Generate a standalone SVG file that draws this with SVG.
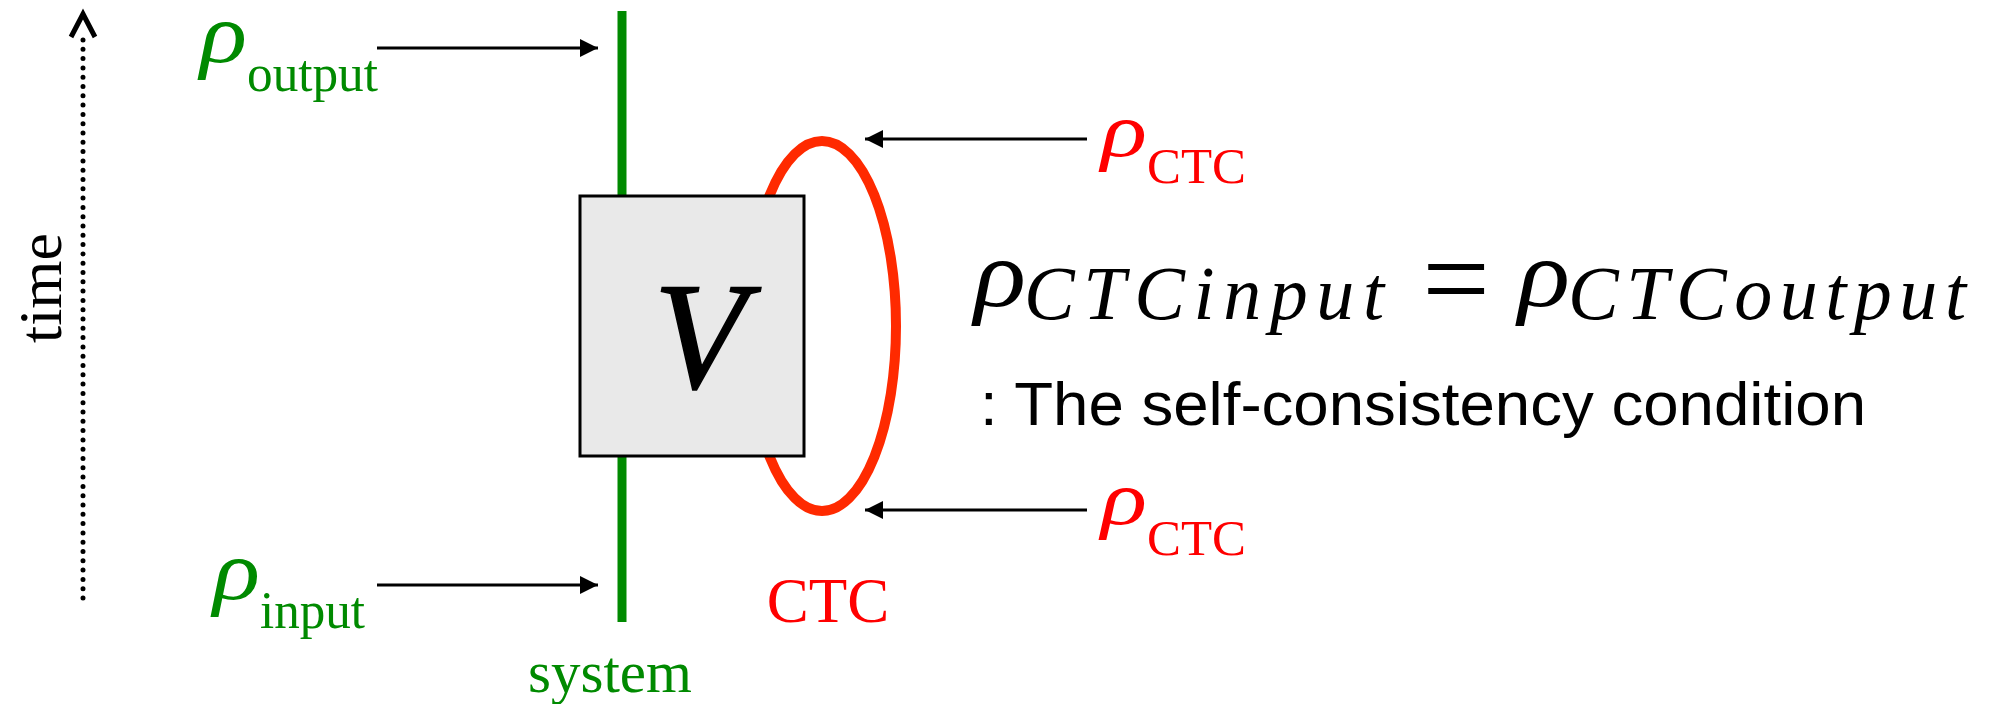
<svg xmlns="http://www.w3.org/2000/svg" width="2001" height="704" viewBox="0 0 2001 704">
<style>
.serif{font-family:"Liberation Serif","Times New Roman",serif}
.sans{font-family:"Liberation Sans",Arial,sans-serif}
.it{font-style:italic}
.green{fill:#008a00}
.red{fill:#ff0000}
.blk{fill:#000}
.conn{stroke:#000;stroke-width:3;fill:none}
</style>
<defs>
<marker id="ah" viewBox="0 0 18 18" refX="18" refY="9" markerWidth="18" markerHeight="18" markerUnits="userSpaceOnUse" orient="auto">
<path d="M0,0 L18,9 L0,18 Z" fill="#000"/>
</marker>
</defs>
<rect width="2001" height="704" fill="#fff"/>

<g id="time-axis">
<line x1="83" y1="40" x2="83" y2="604" stroke="#000" stroke-width="5" stroke-linecap="round" stroke-dasharray="0 9.3"/>
<path d="M71,37 L83,14 L95,37" fill="none" stroke="#000" stroke-width="5"/>
<text class="serif blk" font-size="62" text-anchor="middle" transform="translate(61,288) rotate(-90)">time</text>
</g>

<g id="system-line">
<line x1="622" y1="11" x2="622" y2="622" stroke="#008a00" stroke-width="9"/>
<text class="serif green" x="610" y="692" font-size="59" text-anchor="middle">system</text>
</g>

<g id="ctc-loop">
<ellipse cx="822" cy="326" rx="74" ry="185" fill="none" stroke="#ff2a00" stroke-width="10"/>
<text class="serif red" x="828" y="622" font-size="63" text-anchor="middle">CTC</text>
</g>

<g id="V-box">
<rect x="580" y="196" width="224" height="260" fill="#e9e9e9" stroke="#000" stroke-width="3"/>
<text class="serif it blk" x="700" y="388" font-size="152" text-anchor="middle" stroke="#000" stroke-width="1.5">V</text>
</g>

<g id="connectors">
<line class="conn" x1="377" y1="48" x2="598" y2="48" marker-end="url(#ah)"/>
<line class="conn" x1="377" y1="585" x2="598" y2="585" marker-end="url(#ah)"/>
<line class="conn" x1="1087" y1="139" x2="865" y2="139" marker-end="url(#ah)"/>
<line class="conn" x1="1087" y1="510" x2="865" y2="510" marker-end="url(#ah)"/>
</g>

<g id="rho-output">
<text class="serif it green" x="200" y="62" font-size="84" textLength="47" lengthAdjust="spacingAndGlyphs">ρ</text>
<text class="serif green" x="247" y="91" font-size="52" textLength="131" lengthAdjust="spacingAndGlyphs">output</text>
</g>

<g id="rho-input">
<text class="serif it green" x="213" y="599" font-size="84" textLength="47" lengthAdjust="spacingAndGlyphs">ρ</text>
<text class="serif green" x="260" y="628" font-size="52" textLength="105" lengthAdjust="spacingAndGlyphs">input</text>
</g>

<g id="rho-ctc-top">
<text class="serif it red" x="1101" y="156" font-size="76" textLength="46" lengthAdjust="spacingAndGlyphs">ρ</text>
<text class="serif red" x="1147" y="183" font-size="51" textLength="99" lengthAdjust="spacingAndGlyphs">CTC</text>
</g>

<g id="rho-ctc-bottom">
<text class="serif it red" x="1101" y="524" font-size="76" textLength="46" lengthAdjust="spacingAndGlyphs">ρ</text>
<text class="serif red" x="1147" y="555" font-size="51" textLength="99" lengthAdjust="spacingAndGlyphs">CTC</text>
</g>

<g id="equation">
<text class="serif it blk" x="974" y="306" font-size="95" textLength="52" lengthAdjust="spacingAndGlyphs">ρ</text>
<text class="serif it blk" x="1024" y="319" font-size="76" textLength="360" lengthAdjust="spacing">CTCinput</text>
<text class="serif blk" x="1456" y="319" font-size="120" text-anchor="middle">=</text>
<text class="serif it blk" x="1518" y="306" font-size="95" textLength="52" lengthAdjust="spacingAndGlyphs">ρ</text>
<text class="serif it blk" x="1568" y="319" font-size="76" textLength="398" lengthAdjust="spacing">CTCoutput</text>
<text class="sans blk" x="980" y="425" font-size="62" textLength="886" lengthAdjust="spacingAndGlyphs">: The self-consistency condition</text>
</g>
</svg>
